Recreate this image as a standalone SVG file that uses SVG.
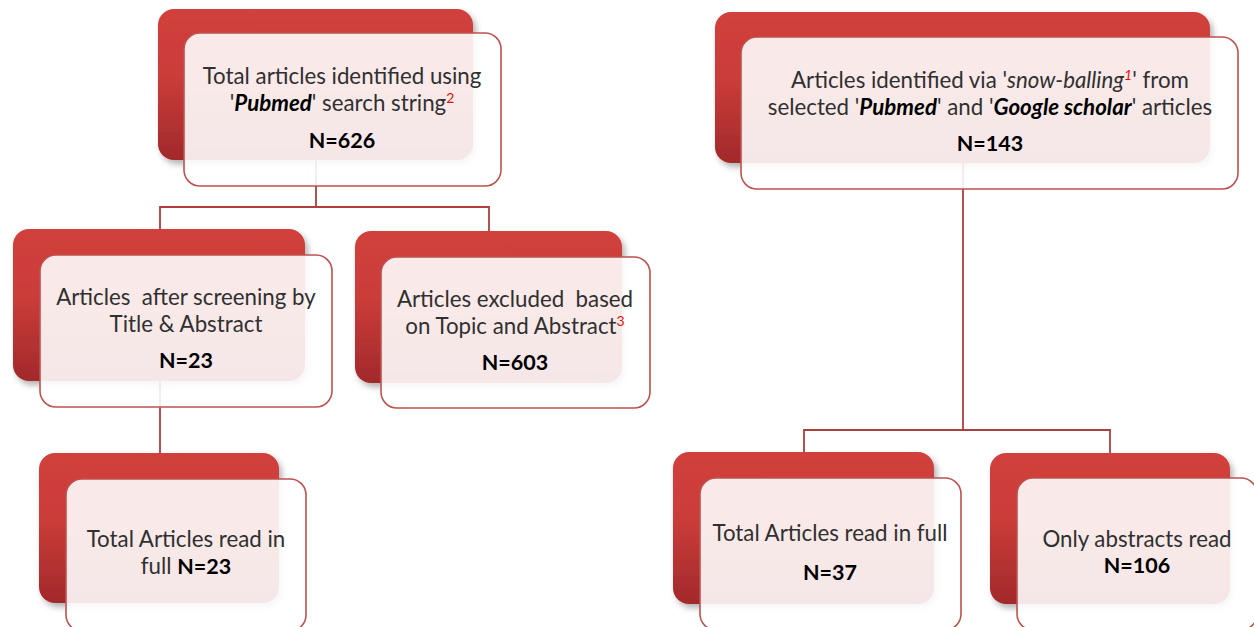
<svg xmlns="http://www.w3.org/2000/svg" width="1254" height="627" viewBox="0 0 1254 627">
<defs>
<linearGradient id="redg" x1="0" y1="0" x2="0" y2="1">
<stop offset="0" stop-color="#d1403c"/>
<stop offset="0.45" stop-color="#ca3c39"/>
<stop offset="1" stop-color="#a2292b"/>
</linearGradient>
<filter id="sh" x="-10%" y="-10%" width="125%" height="130%">
<feDropShadow dx="3" dy="4" stdDeviation="3" flood-color="#000" flood-opacity="0.3"/>
</filter>
</defs>
<style>
.back{fill:url(#redg);filter:url(#sh);}
.front{fill:#ffffff;fill-opacity:0.89;stroke:#c0504d;stroke-width:1.6;}
.conn{fill:none;stroke:#ae3f3d;stroke-width:1.8;}
text{font-family:Lato,"Open Sans","Liberation Sans",sans-serif;font-size:22.3px;fill:#303030;text-anchor:middle;font-weight:400;white-space:pre;}
.n{font-weight:700;fill:#000;font-size:21.5px;}
.bi{font-weight:700;font-style:italic;fill:#000;}
.it{font-style:italic;}
.sup{fill:#e0100c;font-size:14px;}
</style>
<g id="connectors">
<path class="conn" d="M316 160 V207 M160 207 H489 M160 206 V229 M489 206 V231"/>
<path class="conn" d="M160 381 V453"/>
<path class="conn" d="M963 163 V430 M804 430 H1110 M804 429 V452 M1110 429 V453"/>
</g>
<g id="node-pubmed">
<rect class="back" x="158" y="9" width="315" height="151" rx="16"/>
<rect class="front" x="184" y="33" width="317" height="153" rx="16"/>
<text x="342" y="84">Total articles identified using</text>
<text x="342" y="111">'<tspan class="bi">Pubmed</tspan>' search string<tspan class="sup" dy="-8">2</tspan></text>
<text class="n" x="342" y="148">N=626</text>
</g>
<g id="node-snowball">
<rect class="back" x="715" y="12" width="495" height="151" rx="16"/>
<rect class="front" x="741" y="37" width="497" height="152" rx="16"/>
<text x="990" y="88">Articles identified via '<tspan class="it">snow-balling</tspan><tspan class="sup it" dy="-8">1</tspan><tspan dy="8">' from</tspan></text>
<text x="990" y="115">selected '<tspan class="bi">Pubmed</tspan>' and '<tspan class="bi">Google scholar</tspan>' articles</text>
<text class="n" x="990" y="151">N=143</text>
</g>
<g id="node-screened">
<rect class="back" x="13" y="229" width="292" height="152" rx="16"/>
<rect class="front" x="40" y="255" width="292" height="152" rx="16"/>
<text x="186" y="305">Articles  after screening by</text>
<text x="186" y="332">Title &amp; Abstract</text>
<text class="n" x="186" y="368">N=23</text>
</g>
<g id="node-excluded">
<rect class="back" x="355" y="231" width="267" height="152" rx="16"/>
<rect class="front" x="381" y="257" width="269" height="151" rx="16"/>
<text x="515" y="307">Articles excluded  based</text>
<text x="515" y="334">on Topic and Abstract<tspan class="sup" dy="-8">3</tspan></text>
<text class="n" x="515" y="370">N=603</text>
</g>
<g id="node-full-pubmed">
<rect class="back" x="39" y="453" width="240" height="150" rx="16"/>
<rect class="front" x="66" y="479" width="240" height="152" rx="16"/>
<text x="186" y="547">Total Articles read in</text>
<text x="186" y="574">full <tspan class="n">N=23</tspan></text>
</g>
<g id="node-full-snowball">
<rect class="back" x="673" y="452" width="261" height="152" rx="16"/>
<rect class="front" x="700" y="478" width="261" height="152" rx="16"/>
<text x="830" y="541">Total Articles read in full</text>
<text class="n" x="830" y="580">N=37</text>
</g>
<g id="node-abstracts">
<rect class="back" x="990" y="453" width="240" height="151" rx="16"/>
<rect class="front" x="1017" y="478" width="240" height="152" rx="16"/>
<text x="1137" y="547">Only abstracts read</text>
<text class="n" x="1137" y="573">N=106</text>
</g>
</svg>
